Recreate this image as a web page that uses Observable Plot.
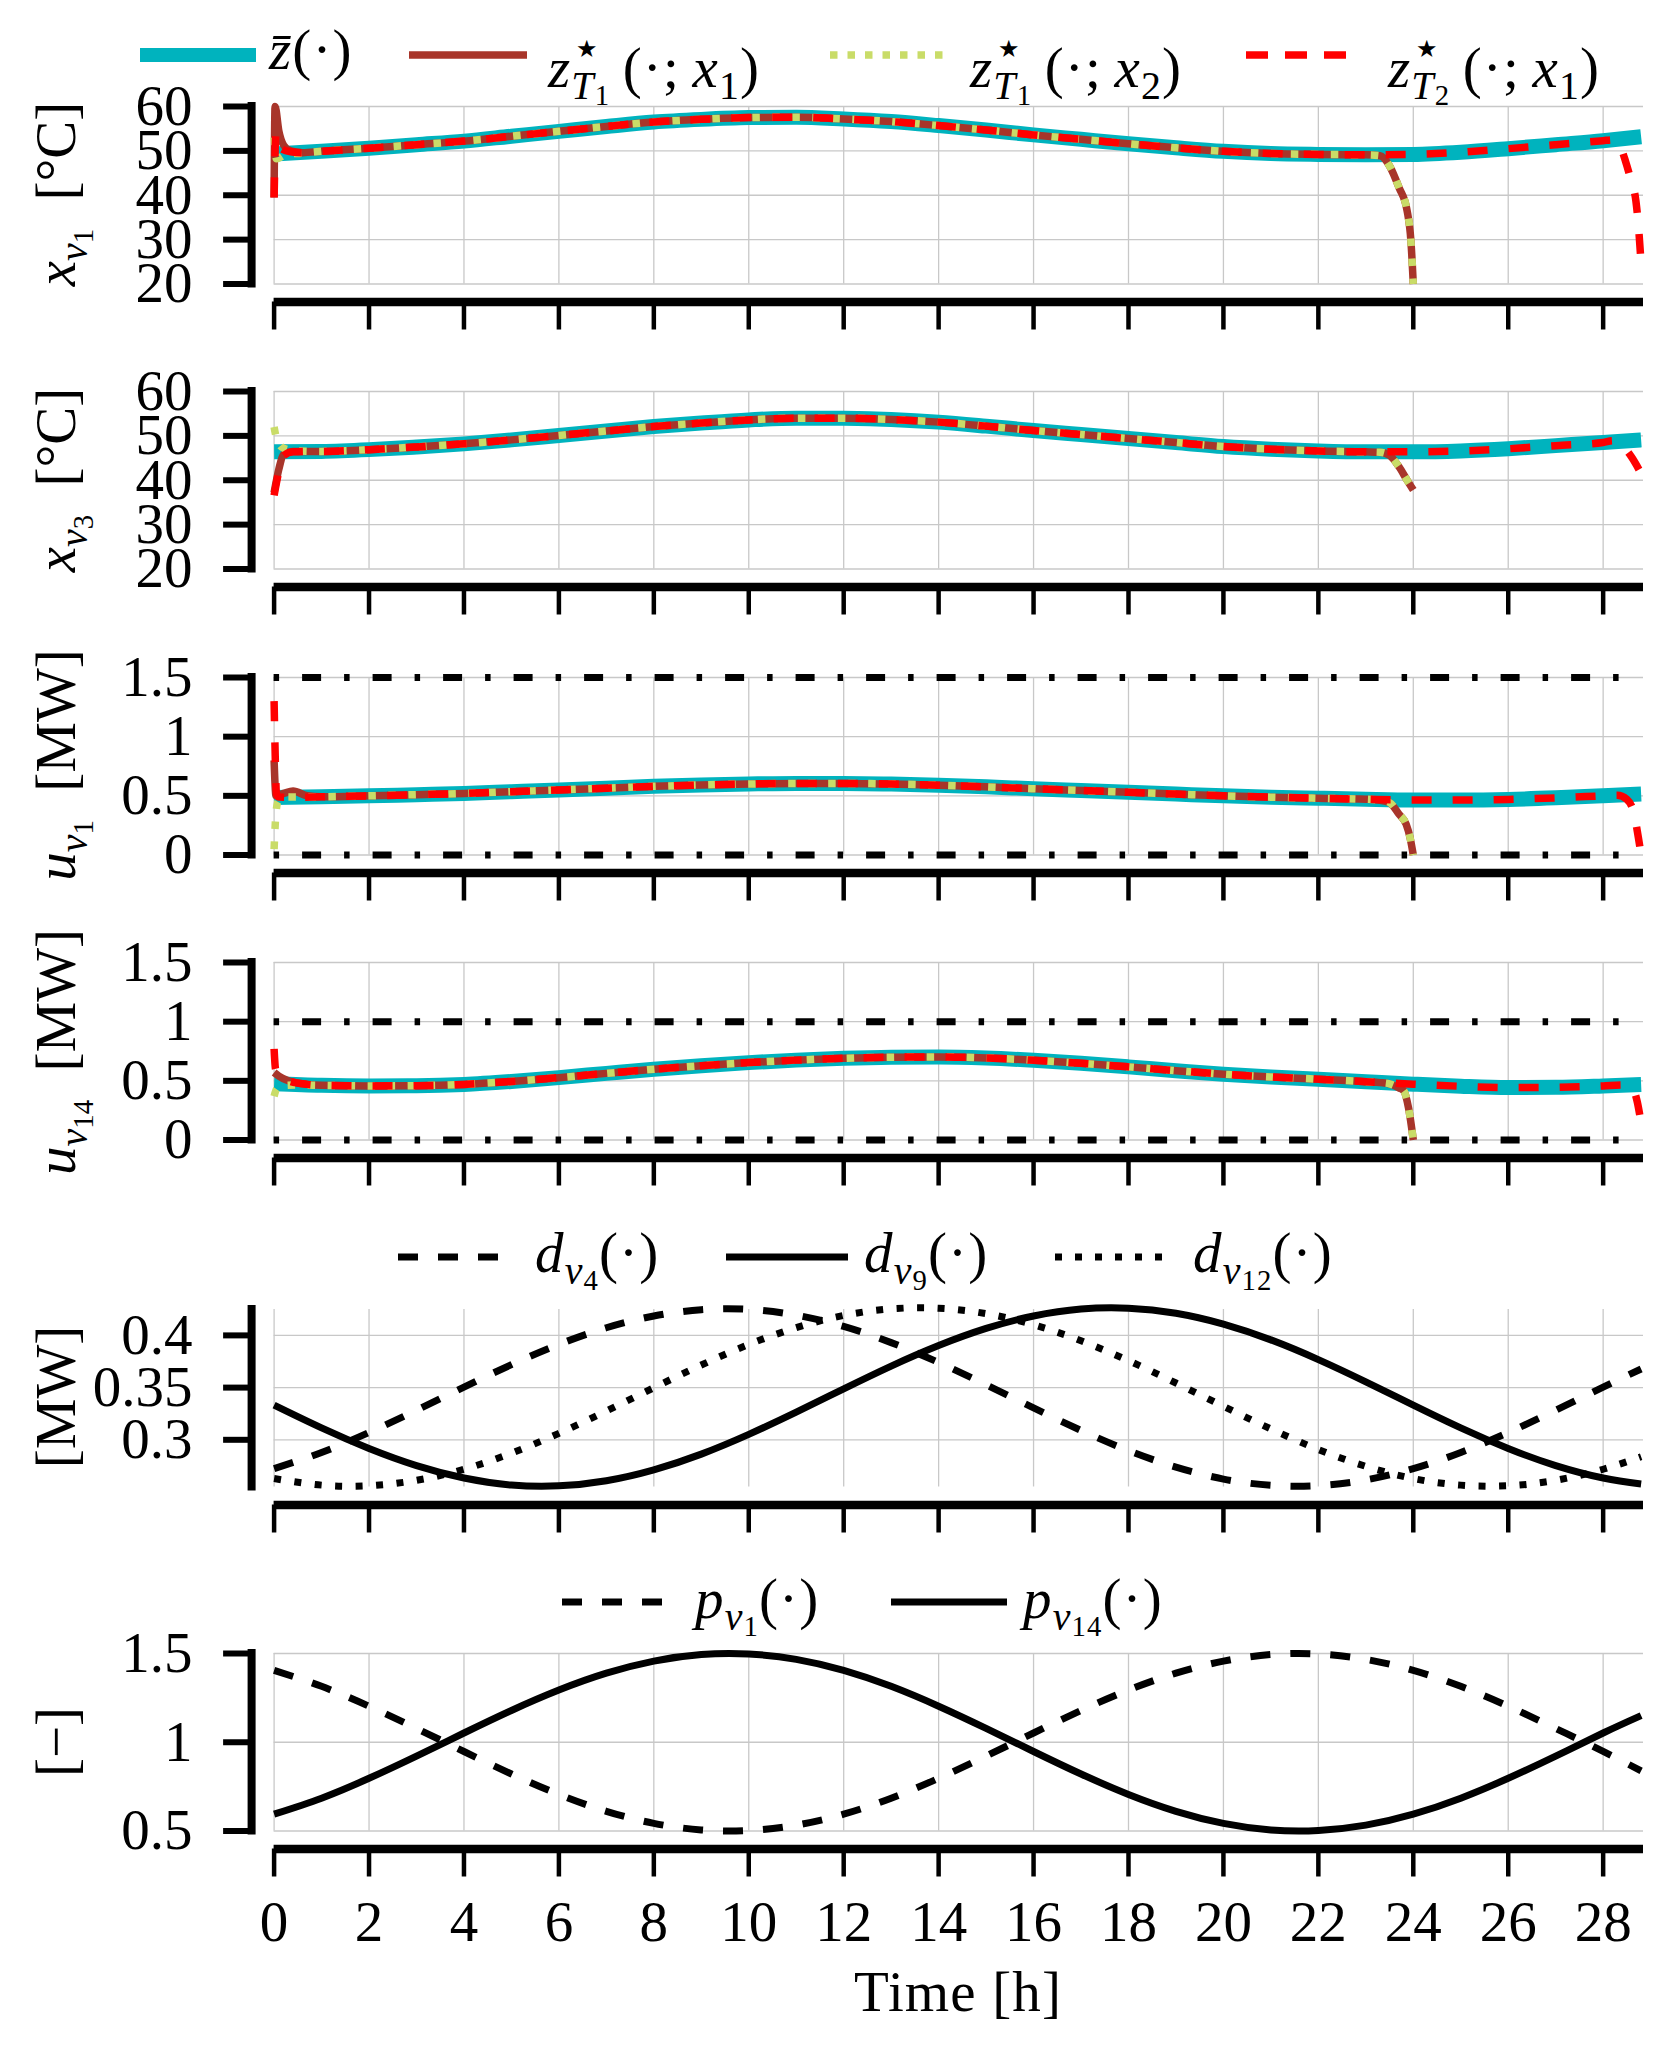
<!DOCTYPE html>
<html><head><meta charset="utf-8">
<script src="https://cdn.jsdelivr.net/npm/d3@7"></script>
<script src="https://cdn.jsdelivr.net/npm/@observablehq/plot@0.6"></script>
<style>
html,body{margin:0;padding:0;background:#fff;}
#fig{position:relative;width:1663px;height:2056px;font-family:'Liberation Serif',serif;color:#000;overflow:hidden;}
.txt{position:absolute;font-size:57px;line-height:57px;white-space:nowrap;letter-spacing:0.02em;}
.txt sub,.ylab sub{font-size:0.7em;vertical-align:-0.3em;line-height:0;}
.txt sub sub,.ylab sub sub{font-size:0.72em;vertical-align:-0.22em;}
.ylab{position:absolute;font-size:57px;line-height:57px;white-space:nowrap;transform:translate(-50%,-50%) rotate(-90deg);}
.star{display:inline-block;width:0;font-size:0.42em;vertical-align:1.25em;position:relative;left:0.2em;font-family:'DejaVu Sans',sans-serif;}
</style></head>
<body><div id="fig"></div>
<script>
// ---------- data ----------
const T = [0,1,2,3,4,5,6,7,8,9,10,11,12,13,14,15,16,17,18,19,20,21,22,23,24,25,26,27,28,28.8];
const xTicks = [0,2,4,6,8,10,12,14,16,18,20,22,24,26,28];
const xDomain = [0, 28.85];
const boundSpan = [0, 28.8];

// reference trajectories z-bar
const zbarXv1 = [49.3,49.9,50.6,51.4,52.2,53.3,54.4,55.5,56.5,57.1,57.5,57.6,57.2,56.6,55.7,54.7,53.6,52.6,51.6,50.7,49.9,49.4,49.2,49.1,49.2,49.7,50.5,51.4,52.3,53.2];
const zbarXv3 = [46.4,46.5,46.9,47.5,48.2,49.1,50.1,51.1,52.1,52.9,53.6,54.0,54.0,53.7,53.1,52.2,51.2,50.3,49.4,48.5,47.6,47.0,46.6,46.4,46.4,46.6,47.1,47.8,48.5,49.1];
const zbarUv1 = [0.485,0.492,0.500,0.510,0.520,0.535,0.550,0.565,0.580,0.592,0.600,0.605,0.605,0.600,0.590,0.576,0.560,0.545,0.530,0.515,0.500,0.489,0.480,0.471,0.465,0.465,0.470,0.483,0.500,0.515];
const zbarUv14 = [0.475,0.462,0.457,0.459,0.470,0.495,0.527,0.563,0.598,0.628,0.654,0.675,0.691,0.700,0.702,0.693,0.674,0.648,0.618,0.586,0.556,0.533,0.514,0.493,0.472,0.454,0.443,0.445,0.457,0.470];

// transients [t, value] : heads (start) and tails (end of horizon)
const headXv1 = {T1x1: [[0,39.5],[0.02,60],[0.1,54.5],[0.2,51.3],[0.35,50.0],[0.6,49.6]],
                 T1x2: [[0,53],[0.05,48.2],[0.25,49.2],[0.6,49.5]],
                 T2x1: [[0,39.5],[0.04,54],[0.15,50.5],[0.35,49.8],[0.6,49.6]]};
const tailXv1 = {T1: [[23.3,48.9],[23.5,46.6],[23.7,41.7],[23.87,36.5],[23.95,29.7],[24,20]],
                 T2: [[28.2,52.5],[28.35,51.2],[28.47,47.7],[28.58,43.6],[28.69,38.7],[28.74,33.5],[28.8,24.5]]};
const headXv3 = {T1x1: [[0,37.2],[0.1,42.5],[0.2,45.8],[0.4,46.5],[0.7,46.5]],
                 T1x2: [[0,52],[0.05,49.5],[0.2,47.2],[0.5,46.6]],
                 T2x1: [[0,36.6],[0.1,42],[0.2,45.5],[0.4,46.4],[0.7,46.5]]};
const tailXv3 = {T1: [[23.3,46.3],[23.5,45.6],[23.7,43],[23.87,40],[24,37.8]],
                 T2: [[28.2,48.9],[28.4,47.8],[28.6,45.2],[28.8,41.5]]};
const headUv1 = {T1x1: [[0,0.8],[0.04,0.5],[0.2,0.52],[0.4,0.54],[0.7,0.5]],
                 T1x2: [[0,0.05],[0.03,0.3],[0.08,0.45],[0.2,0.49],[0.6,0.49]],
                 T2x1: [[0,1.3],[0.02,0.9],[0.05,0.52],[0.1,0.49],[0.5,0.487]]};
const tailUv1 = {T1: [[23.3,0.462],[23.5,0.443],[23.7,0.344],[23.85,0.26],[23.93,0.15],[24,0]],
                 T2: [[28.3,0.505],[28.5,0.47],[28.65,0.35],[28.72,0.2],[28.8,0]]};
const headUv14 = {T1x1: [[0,0.57],[0.1,0.54],[0.3,0.5],[0.7,0.47]],
                  T1x2: [[0,0.37],[0.05,0.43],[0.15,0.46],[0.5,0.465]],
                  T2x1: [[0,0.77],[0.03,0.6],[0.1,0.55],[0.3,0.5],[0.7,0.47]]};
const tailUv14 = {T1: [[23.3,0.485],[23.5,0.475],[23.7,0.44],[23.8,0.415],[23.9,0.27],[24,0]],
                  T2: [[28.4,0.465],[28.6,0.45],[28.72,0.32],[28.8,0.14]]};

const boundsUv1 = [0, 1.5];
const boundsUv14 = [0, 1.0];

// disturbances and prices
const dV4  = [0.2724,0.2879,0.3070,0.3283,0.3505,0.3720,0.3914,0.4073,0.4186,0.4246,0.4249,0.4194,0.4086,0.3931,0.3741,0.3527,0.3305,0.3090,0.2896,0.2738,0.2624,0.2564,0.2561,0.2616,0.2724,0.2879,0.3070,0.3283,0.3505,0.3678];
const dV9  = [0.3332,0.3114,0.2917,0.2753,0.2634,0.2567,0.2559,0.2608,0.2712,0.2863,0.3052,0.3265,0.3488,0.3706,0.3903,0.4067,0.4186,0.4253,0.4261,0.4212,0.4108,0.3957,0.3768,0.3555,0.3332,0.3114,0.2917,0.2753,0.2634,0.2576];
const dV12 = [0.2629,0.2566,0.2560,0.2612,0.2718,0.2872,0.3062,0.3276,0.3499,0.3716,0.3913,0.4074,0.4191,0.4254,0.4260,0.4208,0.4102,0.3948,0.3758,0.3544,0.3321,0.3104,0.2907,0.2746,0.2629,0.2566,0.2560,0.2612,0.2718,0.2838];
const pV1  = [1.405,1.315,1.203,1.078,0.948,0.821,0.706,0.611,0.543,0.506,0.503,0.533,0.595,0.685,0.797,0.922,1.052,1.179,1.294,1.389,1.457,1.494,1.497,1.467,1.405,1.315,1.203,1.078,0.948,0.839];
const pV14 = [0.595,0.685,0.797,0.922,1.052,1.179,1.294,1.389,1.457,1.494,1.497,1.467,1.405,1.315,1.203,1.078,0.948,0.821,0.706,0.611,0.543,0.506,0.503,0.533,0.595,0.685,0.797,0.922,1.052,1.150];

// ---------- styles ----------
const C = {teal: "#00b3be", brown: "#a8352a", yellow: "#c9dc68", red: "#ff0000", grid: "#c8c8c8"};
const FONT = "'Liberation Serif', serif";

// ---------- helpers ----------
const fig = document.getElementById("fig");
const pts = (ts, vs) => ts.map((t, i) => ({t, v: vs[i]}));
const pairs = a => a.map(([t, v]) => ({t, v}));
function traj(head, ref, tail) {
  const h = pairs(head), tl = pairs(tail);
  const t0 = h[h.length - 1].t, t1 = tl[0].t;
  return h.concat(ref.filter(d => d.t > t0 && d.t < t1), tl);
}

function panel({top, yDomain, yTicks, lines, bounds = [], last = false}) {
  const mt = 20, mb = last ? 135 : 80, ph = 177.5;
  const marks = [
    Plot.gridX({ticks: xTicks, stroke: C.grid, strokeOpacity: 1, strokeWidth: 1.3}),
    Plot.gridY({ticks: yTicks, stroke: C.grid, strokeOpacity: 1, strokeWidth: 1.3}),
    Plot.ruleY(bounds, {x1: boundSpan[0], x2: boundSpan[1], stroke: "#000", strokeWidth: 7, strokeDasharray: "5.5,23,19,23"}),
    ...lines.map(s => Plot.line(s.data, {x: "t", y: "v", stroke: s.color, strokeWidth: s.width,
      strokeDasharray: s.dash, strokeLinecap: "butt", strokeLinejoin: "round", curve: s.curve || "monotone-x"})),
    Plot.ruleX([xDomain[0]], {y1: yDomain[0], y2: yDomain[1], dx: -22.5, stroke: "#000", strokeWidth: 8, strokeLinecap: "square"}),
    Plot.axisY({ticks: yTicks, tickFormat: d => String(d), tickSize: 28, tickPadding: 31, dx: -22.5,
      stroke: "#000", strokeWidth: 6, fill: "#000", label: null}),
    Plot.ruleY([yDomain[0]], {x1: xDomain[0], x2: xDomain[1], dy: 18, stroke: "#000", strokeWidth: 8.5}),
    Plot.axisX({ticks: xTicks, tickFormat: d => String(d), tickSize: 28, tickPadding: 24, dy: 18,
      stroke: "#000", strokeWidth: 4.5, fill: last ? "#000" : "none", label: null})
  ];
  const svg = Plot.plot({
    width: 1663, height: mt + ph + mb, marginTop: mt, marginBottom: mb, marginLeft: 273.6, marginRight: 20,
    x: {domain: xDomain, label: null}, y: {domain: yDomain, label: null},
    style: {fontFamily: FONT, fontSize: "57px", background: "transparent", overflow: "visible", color: "#000"},
    marks
  });
  svg.style.position = "absolute"; svg.style.left = "0px"; svg.style.top = (top - mt) + "px";
  fig.appendChild(svg);
}

function optLines(ref, head, tail) {
  const zr = pts(T, ref);
  return [
    {data: zr, color: C.teal, width: 15},
    {data: traj(head.T1x1, zr, tail.T1), color: C.brown, width: 7.5},
    {data: traj(head.T1x2, zr, tail.T1), color: C.yellow, width: 7.5, dash: "7.5,12.5"},
    {data: traj(head.T2x1, zr, tail.T2), color: C.red, width: 7.5, dash: "20,21"}
  ];
}

// ---------- panels ----------
panel({top: 105.7, yDomain: [20, 60], yTicks: [20,30,40,50,60], lines: optLines(zbarXv1, headXv1, tailXv1)});
panel({top: 391, yDomain: [20, 60], yTicks: [20,30,40,50,60], lines: optLines(zbarXv3, headXv3, tailXv3)});
panel({top: 676.7, yDomain: [0, 1.5], yTicks: [0,0.5,1,1.5], bounds: boundsUv1, lines: optLines(zbarUv1, headUv1, tailUv1)});
panel({top: 961.7, yDomain: [0, 1.5], yTicks: [0,0.5,1,1.5], bounds: boundsUv14, lines: optLines(zbarUv14, headUv14, tailUv14)});
panel({top: 1308.5, yDomain: [0.2548, 0.4248], yTicks: [0.3,0.35,0.4], lines: [
  {data: pts(T, dV4), color: "#000", width: 7, dash: "20,20", curve: "natural"},
  {data: pts(T, dV9), color: "#000", width: 7, curve: "natural"},
  {data: pts(T, dV12), color: "#000", width: 7, dash: "7,13.5", curve: "natural"}
]});
panel({top: 1653, yDomain: [0.5, 1.5], yTicks: [0.5,1,1.5], last: true, lines: [
  {data: pts(T, pV1), color: "#000", width: 7, dash: "20,20", curve: "natural"},
  {data: pts(T, pV14), color: "#000", width: 7, curve: "natural"}
]});

// ---------- legends & labels ----------
function swatch(x0, x1, cy, color, width, dash) {
  const ns = "http://www.w3.org/2000/svg";
  const s = document.createElementNS(ns, "svg");
  s.setAttribute("width", x1 - x0); s.setAttribute("height", 30);
  s.style.position = "absolute"; s.style.left = x0 + "px"; s.style.top = (cy - 15) + "px";
  const l = document.createElementNS(ns, "line");
  l.setAttribute("x1", 0); l.setAttribute("x2", x1 - x0); l.setAttribute("y1", 15); l.setAttribute("y2", 15);
  l.setAttribute("stroke", color); l.setAttribute("stroke-width", width);
  if (dash) l.setAttribute("stroke-dasharray", dash);
  s.appendChild(l); fig.appendChild(s);
}
function text(html, left, baseline, center) {
  const d = document.createElement("div");
  d.className = "txt"; d.innerHTML = html;
  d.style.left = left + "px"; d.style.top = (baseline - 47.7) + "px";
  if (center) d.style.transform = "translateX(-50%)";
  fig.appendChild(d);
}
function ylab(html, cy) {
  const d = document.createElement("div");
  d.className = "ylab"; d.innerHTML = html;
  d.style.left = "55px"; d.style.top = cy + "px";
  fig.appendChild(d);
}

const zstar = (T, x) => `<i>z</i><span class="star">★</span><sub><i>T</i><sub>${T}</sub></sub>&#8201;(·;&#8201;<i>x</i><sub>${x}</sub>)`;
// legend 1
swatch(140, 256, 55, C.teal, 14);
text(`<i>z&#772;</i>(·)`, 269, 69);
swatch(409, 527, 55, C.brown, 7.5);
text(zstar(1, 1), 548, 69);
swatch(830, 947, 55, C.yellow, 7.5, "7.5,10");
text(zstar(1, 2), 970, 69);
swatch(1246, 1361, 55, C.red, 7.5, "22,17");
text(zstar(2, 1), 1388, 69);
// legend 2
swatch(398, 504, 1257, "#000", 7, "20,20");
text(`<i>d</i><sub><i>v</i><sub>4</sub></sub>(·)`, 535, 1272);
swatch(726, 848, 1257, "#000", 7);
text(`<i>d</i><sub><i>v</i><sub>9</sub></sub>(·)`, 864, 1272);
swatch(1055, 1166, 1257, "#000", 7, "7,13");
text(`<i>d</i><sub><i>v</i><sub>12</sub></sub>(·)`, 1193, 1272);
// legend 3
swatch(562, 668, 1602, "#000", 7, "20,20");
text(`<i>p</i><sub><i>v</i><sub>1</sub></sub>(·)`, 695, 1618);
swatch(891, 1007, 1602, "#000", 7);
text(`<i>p</i><sub><i>v</i><sub>14</sub></sub>(·)`, 1023, 1618);
// axis title
text("Time [h]", 958, 2011, true);
// y labels
ylab(`<i>x</i><sub><i>v</i><sub>1</sub></sub>&ensp;[°C]`, 194.4);
ylab(`<i>x</i><sub><i>v</i><sub>3</sub></sub>&ensp;[°C]`, 480);
ylab(`<i>u</i><sub><i>v</i><sub>1</sub></sub>&ensp;[MW]`, 765.4);
ylab(`<i>u</i><sub><i>v</i><sub>14</sub></sub>&ensp;[MW]`, 1052);
ylab(`[MW]`, 1397);
ylab(`[−]`, 1742);
</script></body></html>
